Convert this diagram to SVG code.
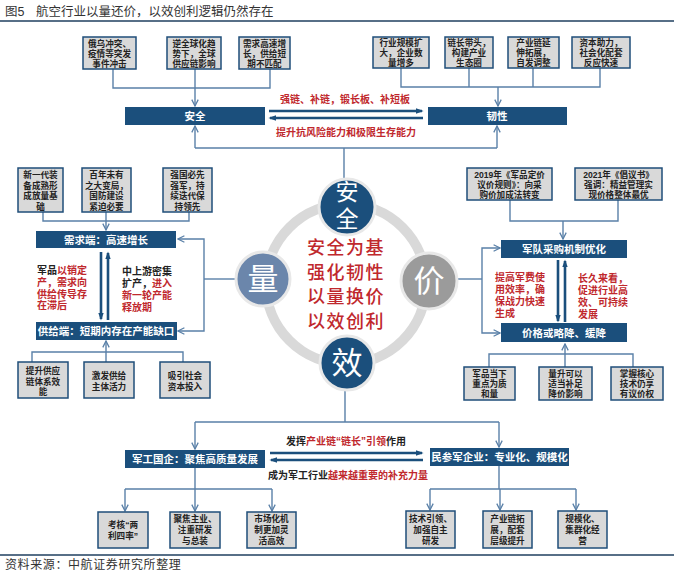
<svg xmlns="http://www.w3.org/2000/svg" width="674" height="578" viewBox="0 0 674 578">
<defs>
<style>
text{font-family:"Liberation Sans","Noto Sans CJK SC",sans-serif}
.bx{fill:#d9d9d9;stroke:#1f4e79;stroke-width:1.5}
.bar{fill:#1b4f7c}
.bt{font-size:8.6px;font-weight:700;fill:#222;text-anchor:middle}
.wt{font-size:10.5px;font-weight:700;fill:#fff;text-anchor:middle}
.rt{font-size:10px;font-weight:700;fill:#c0282d}
.dk{fill:#222}
.ln{fill:none;stroke:#5a80a8;stroke-width:1.4}
.th{fill:none;stroke:#1b4f7c;stroke-width:2.6}
.big{fill:#fff;text-anchor:middle;font-weight:400}
.ct{font-size:18px;font-weight:500;fill:#c0282d;text-anchor:middle;letter-spacing:1.5px}
</style>
<marker id="av" viewBox="0 0 10 10" refX="9" refY="5" markerWidth="8" markerHeight="8" markerUnits="userSpaceOnUse" orient="auto">
<path d="M1,1 L9,5 L1,9" fill="none" stroke="#5a80a8" stroke-width="1.6"/>
</marker>
<marker id="at" viewBox="0 0 10 10" refX="8" refY="5" markerWidth="8" markerHeight="8" markerUnits="userSpaceOnUse" orient="auto">
<path d="M0,1.5 L10,5 L0,8.5 Z" fill="#1b4f7c"/>
</marker>
</defs>
<rect width="674" height="578" fill="#fff"/>

<text x="5" y="16" font-size="12.5" fill="#333">图5</text>
<text x="36" y="16" font-size="12.5" fill="#333">航空行业以量还价，以效创利逻辑仍然存在</text>
<line x1="0" y1="21" x2="674" y2="21" stroke="#1f3f5f" stroke-width="1.5"/>
<line x1="0" y1="555" x2="674" y2="555" stroke="#1f3f5f" stroke-width="1.5"/>
<text x="5" y="569" font-size="12" fill="#333" letter-spacing="0.6">资料来源：中航证券研究所整理</text>

<g id="connectors">
<path class="ln" d="M113,69 V88 H270 V69"/>
<path class="ln" d="M195,69 V106" marker-end="url(#av)"/>
<path class="ln" d="M401,68 V87 H600 V68 M469,68 V87 M533,68 V87"/>
<path class="ln" d="M498,87 V106" marker-end="url(#av)"/>
<path class="th" d="M269,111 H422" marker-end="url(#at)"/>
<path class="th" d="M423,118 H270" marker-end="url(#at)"/>
<path class="ln" d="M195,148 V126" marker-end="url(#av)"/>
<path class="ln" d="M497,148 V126" marker-end="url(#av)"/>
<path class="ln" d="M195,148 H497 M344,148 V179"/>
<path class="ln" d="M43,212 V221 H189 V212 M106,212 V221"/>
<path class="ln" d="M106,221 V230" marker-end="url(#av)"/>
<path class="ln" d="M236,279 H204"/>
<path class="ln" d="M204,279 V239 H178" marker-end="url(#av)"/>
<path class="ln" d="M204,279 V331 H178" marker-end="url(#av)"/>
<path class="th" d="M101,252 V319" marker-end="url(#at)"/>
<path class="th" d="M108,320 V253" marker-end="url(#at)"/>
<path class="ln" d="M32,362 V352 H183 V362"/>
<path class="ln" d="M106,362 V341" marker-end="url(#av)"/>
<path class="ln" d="M510,200 V221 H618 V200"/>
<path class="ln" d="M563,221 V239" marker-end="url(#av)"/>
<path class="ln" d="M457,279 H482"/>
<path class="ln" d="M482,279 V248 H500" marker-end="url(#av)"/>
<path class="ln" d="M482,279 V333 H500" marker-end="url(#av)"/>
<path class="th" d="M558,260 V321" marker-end="url(#at)"/>
<path class="th" d="M565,322 V261" marker-end="url(#at)"/>
<path class="ln" d="M489,367 V354 H633 V367"/>
<path class="ln" d="M565,367 V344" marker-end="url(#av)"/>
<path class="ln" d="M345,391 V422 M195,422 H499"/>
<path class="ln" d="M195,422 V449" marker-end="url(#av)"/>
<path class="ln" d="M499,422 V447" marker-end="url(#av)"/>
<path class="th" d="M270,453 H422" marker-end="url(#at)"/>
<path class="th" d="M423,460 H271" marker-end="url(#at)"/>
<path class="ln" d="M195,468 V489 M125,489 H272"/>
<path class="ln" d="M125,489 V511" marker-end="url(#av)"/>
<path class="ln" d="M195,489 V511" marker-end="url(#av)"/>
<path class="ln" d="M272,489 V511" marker-end="url(#av)"/>
<path class="ln" d="M499,466 V489 M430,489 H576"/>
<path class="ln" d="M430,489 V510" marker-end="url(#av)"/>
<path class="ln" d="M500,489 V510" marker-end="url(#av)"/>
<path class="ln" d="M576,489 V510" marker-end="url(#av)"/>
</g>

<g id="connector-labels">
<text class="rt" x="345" y="103" text-anchor="middle">强链、补链，锻长板、补短板</text>
<text class="rt" x="346" y="136" text-anchor="middle" font-size="10.5">提升抗风险能力和极限生存能力</text>
<text class="rt" x="37" y="274"><tspan class="dk">军品</tspan>以销定</text>
<text class="rt" x="37" y="286">产，需求向</text>
<text class="rt" x="37" y="297.5">供给传导存</text>
<text class="rt" x="37" y="309">在滞后</text>
<text class="rt" x="122" y="275"><tspan class="dk">中上游密集</tspan></text>
<text class="rt" x="122" y="287"><tspan class="dk">扩产，</tspan>进入</text>
<text class="rt" x="122" y="299">新一轮产能</text>
<text class="rt" x="122" y="311">释放期</text>
<text class="rt" x="495" y="281">提高军费使</text>
<text class="rt" x="495" y="293">用效率，确</text>
<text class="rt" x="495" y="305">保战力快速</text>
<text class="rt" x="495" y="317">生成</text>
<text class="rt" x="578" y="282">长久来看，</text>
<text class="rt" x="578" y="294">促进行业高</text>
<text class="rt" x="578" y="306">效、可持续</text>
<text class="rt" x="578" y="318">发展</text>
<text class="rt" x="346" y="445" text-anchor="middle" font-size="10.5"><tspan class="dk">发挥</tspan>产业链“链长”引领<tspan class="dk">作用</tspan></text>
<text class="rt" x="348" y="479" text-anchor="middle"><tspan class="dk">成为军工行业</tspan>越来越重要的补充力量</text>
</g>

<g id="core">
<circle cx="346" cy="284" r="80" fill="none" stroke="#d9d9d9" stroke-width="10"/>
<g id="node-anquan"><circle cx="347" cy="207" r="28" fill="#1b4f7c" stroke="#e8e8e8" stroke-width="3"/>
<text class="big" x="347" y="200" font-size="23">安</text><text class="big" x="347" y="227" font-size="23">全</text></g>
<g id="node-liang"><circle cx="263" cy="279" r="27" fill="#6b86ab" stroke="#e8e8e8" stroke-width="3"/>
<text class="big" x="263" y="290" font-size="31">量</text></g>
<g id="node-jia"><circle cx="429" cy="281" r="28" fill="#9b9b9b" stroke="#e8e8e8" stroke-width="3"/>
<text class="big" x="429" y="292" font-size="31">价</text></g>
<g id="node-xiao"><circle cx="347" cy="363" r="27" fill="#1b4f7c" stroke="#e8e8e8" stroke-width="3"/>
<text class="big" x="347" y="374" font-size="31">效</text></g>
<text class="ct" x="346" y="254">安全为基</text>
<text class="ct" x="346" y="279">强化韧性</text>
<text class="ct" x="346" y="303">以量换价</text>
<text class="ct" x="346" y="328">以效创利</text>
</g>

<g id="bar-anquan"><rect class="bar" x="125" y="107" width="140" height="18"/><text class="wt" x="195" y="120">安全</text></g>
<g id="bar-renxing"><rect class="bar" x="428" y="107" width="139" height="18"/><text class="wt" x="497" y="120">韧性</text></g>
<g id="bar-xuqiu"><rect class="bar" x="36" y="231" width="140" height="17"/><text class="wt" x="106" y="243.5">需求端：高速增长</text></g>
<g id="bar-gongji"><rect class="bar" x="36" y="322" width="141" height="18"/><text class="wt" x="106" y="335">供给端：短期内存在产能缺口</text></g>
<g id="bar-caigou"><rect class="bar" x="501" y="240" width="126" height="18"/><text class="wt" x="564" y="253">军队采购机制优化</text></g>
<g id="bar-jiage"><rect class="bar" x="501" y="323" width="126" height="19"/><text class="wt" x="564" y="336.5">价格或略降、缓降</text></g>
<g id="bar-jungong"><rect class="bar" x="125" y="450" width="140" height="18"/><text class="wt" x="195" y="463">军工国企：聚焦高质量发展</text></g>
<g id="bar-mincan"><rect class="bar" x="430" y="448" width="139" height="18"/><text class="wt" x="499.5" y="461">民参军企业：专业化、规模化</text></g>

<g id="box-t1"><rect class="bx" x="83" y="37" width="53" height="32"/><text class="bt"><tspan x="109.5" y="46.5">俄乌冲突、</tspan><tspan x="109.5" y="56.5">疫情等突发</tspan><tspan x="109.5" y="66.5">事件冲击</tspan></text></g>
<g id="box-t2"><rect class="bx" x="167" y="37" width="54" height="32"/><text class="bt"><tspan x="194" y="46.5">逆全球化趋</tspan><tspan x="194" y="56.5">势下，全球</tspan><tspan x="194" y="66.5">供应链影响</tspan></text></g>
<g id="box-t3"><rect class="bx" x="239" y="37" width="51" height="32"/><text class="bt"><tspan x="264.5" y="46.5">需求高速增</tspan><tspan x="264.5" y="56.5">长，供给短</tspan><tspan x="264.5" y="66.5">期不匹配</tspan></text></g>
<g id="box-t4"><rect class="bx" x="373" y="37" width="56" height="31"/><text class="bt"><tspan x="401" y="46">行业规模扩</tspan><tspan x="401" y="56">大，企业数</tspan><tspan x="401" y="66">量增多</tspan></text></g>
<g id="box-t5"><rect class="bx" x="445" y="37" width="48" height="31"/><text class="bt"><tspan x="469" y="46">链长带头，</tspan><tspan x="469" y="56">构建产业</tspan><tspan x="469" y="66">生态圈</tspan></text></g>
<g id="box-t6"><rect class="bx" x="508" y="37" width="51" height="31"/><text class="bt"><tspan x="533.5" y="46">产业链延</tspan><tspan x="533.5" y="56">伸拓展，</tspan><tspan x="533.5" y="66">自发调整</tspan></text></g>
<g id="box-t7"><rect class="bx" x="572" y="37" width="58" height="31"/><text class="bt"><tspan x="601" y="46">资本助力，</tspan><tspan x="601" y="56">社会化配套</tspan><tspan x="601" y="66">反应快速</tspan></text></g>

<g id="box-l1"><rect class="bx" x="18" y="168" width="45" height="44"/><text class="bt"><tspan x="40.5" y="178">新一代装</tspan><tspan x="40.5" y="188.5">备成熟形</tspan><tspan x="40.5" y="199">成放量基</tspan><tspan x="40.5" y="209.5">础</tspan></text></g>
<g id="box-l2"><rect class="bx" x="82" y="168" width="49" height="44"/><text class="bt"><tspan x="106.5" y="178">百年未有</tspan><tspan x="106.5" y="188.5">之大变局，</tspan><tspan x="106.5" y="199">国防建设</tspan><tspan x="106.5" y="209.5">紧迫必要</tspan></text></g>
<g id="box-l3"><rect class="bx" x="163" y="168" width="49" height="44"/><text class="bt"><tspan x="187.5" y="178">强国必先</tspan><tspan x="187.5" y="188.5">强军，持</tspan><tspan x="187.5" y="199">续迭代保</tspan><tspan x="187.5" y="209.5">持领先</tspan></text></g>
<g id="box-l4"><rect class="bx" x="18" y="362" width="50" height="36"/><text class="bt"><tspan x="43" y="374">提升供应</tspan><tspan x="43" y="384.5">链体系效</tspan><tspan x="43" y="395">能</tspan></text></g>
<g id="box-l5"><rect class="bx" x="84" y="362" width="50" height="36"/><text class="bt"><tspan x="109" y="378.5">激发供给</tspan><tspan x="109" y="389.5">主体活力</tspan></text></g>
<g id="box-l6"><rect class="bx" x="160" y="362" width="50" height="36"/><text class="bt"><tspan x="185" y="378.5">吸引社会</tspan><tspan x="185" y="389.5">资本投入</tspan></text></g>

<g id="box-r1"><rect class="bx" x="467" y="168" width="85" height="32"/><text class="bt"><tspan x="509.5" y="178">2019年《军品定价</tspan><tspan x="509.5" y="188">议价规则》：向采</tspan><tspan x="509.5" y="198">购价加成法转变</tspan></text></g>
<g id="box-r2"><rect class="bx" x="575" y="168" width="87" height="32"/><text class="bt"><tspan x="618.5" y="178">2021年《倡议书》</tspan><tspan x="618.5" y="188">强调：精益管理实</tspan><tspan x="618.5" y="198">现价格整体最优</tspan></text></g>
<g id="box-r3"><rect class="bx" x="464" y="367" width="51" height="33"/><text class="bt"><tspan x="489.5" y="376.5">军品当下</tspan><tspan x="489.5" y="386.5">重点为质</tspan><tspan x="489.5" y="396.5">和量</tspan></text></g>
<g id="box-r4"><rect class="bx" x="539" y="367" width="53" height="33"/><text class="bt"><tspan x="565.5" y="376.5">量升可以</tspan><tspan x="565.5" y="386.5">适当补足</tspan><tspan x="565.5" y="396.5">降价影响</tspan></text></g>
<g id="box-r5"><rect class="bx" x="611" y="367" width="52" height="33"/><text class="bt"><tspan x="637" y="376.5">掌握核心</tspan><tspan x="637" y="386.5">技术仍享</tspan><tspan x="637" y="396.5">有议价权</tspan></text></g>

<g id="box-b1"><rect class="bx" x="98" y="512" width="50" height="36"/><text class="bt"><tspan x="123" y="528">考核“两</tspan><tspan x="123" y="539">利四率”</tspan></text></g>
<g id="box-b2"><rect class="bx" x="170" y="512" width="50" height="36"/><text class="bt"><tspan x="195" y="522">聚焦主业、</tspan><tspan x="195" y="533">注重研发</tspan><tspan x="195" y="544">与总装</tspan></text></g>
<g id="box-b3"><rect class="bx" x="247" y="512" width="49" height="36"/><text class="bt"><tspan x="271.5" y="522">市场化机</tspan><tspan x="271.5" y="533">制更加灵</tspan><tspan x="271.5" y="544">活高效</tspan></text></g>
<g id="box-b4"><rect class="bx" x="406" y="511" width="49" height="37"/><text class="bt"><tspan x="430.5" y="521.5">技术引领、</tspan><tspan x="430.5" y="532.5">加强自主</tspan><tspan x="430.5" y="543.5">研发</tspan></text></g>
<g id="box-b5"><rect class="bx" x="483" y="511" width="49" height="37"/><text class="bt"><tspan x="507.5" y="521.5">产业链拓</tspan><tspan x="507.5" y="532.5">展，配套</tspan><tspan x="507.5" y="543.5">层级提升</tspan></text></g>
<g id="box-b6"><rect class="bx" x="558" y="511" width="49" height="37"/><text class="bt"><tspan x="582.5" y="521.5">规模化、</tspan><tspan x="582.5" y="532.5">集群化经</tspan><tspan x="582.5" y="543.5">营</tspan></text></g>
</svg>
